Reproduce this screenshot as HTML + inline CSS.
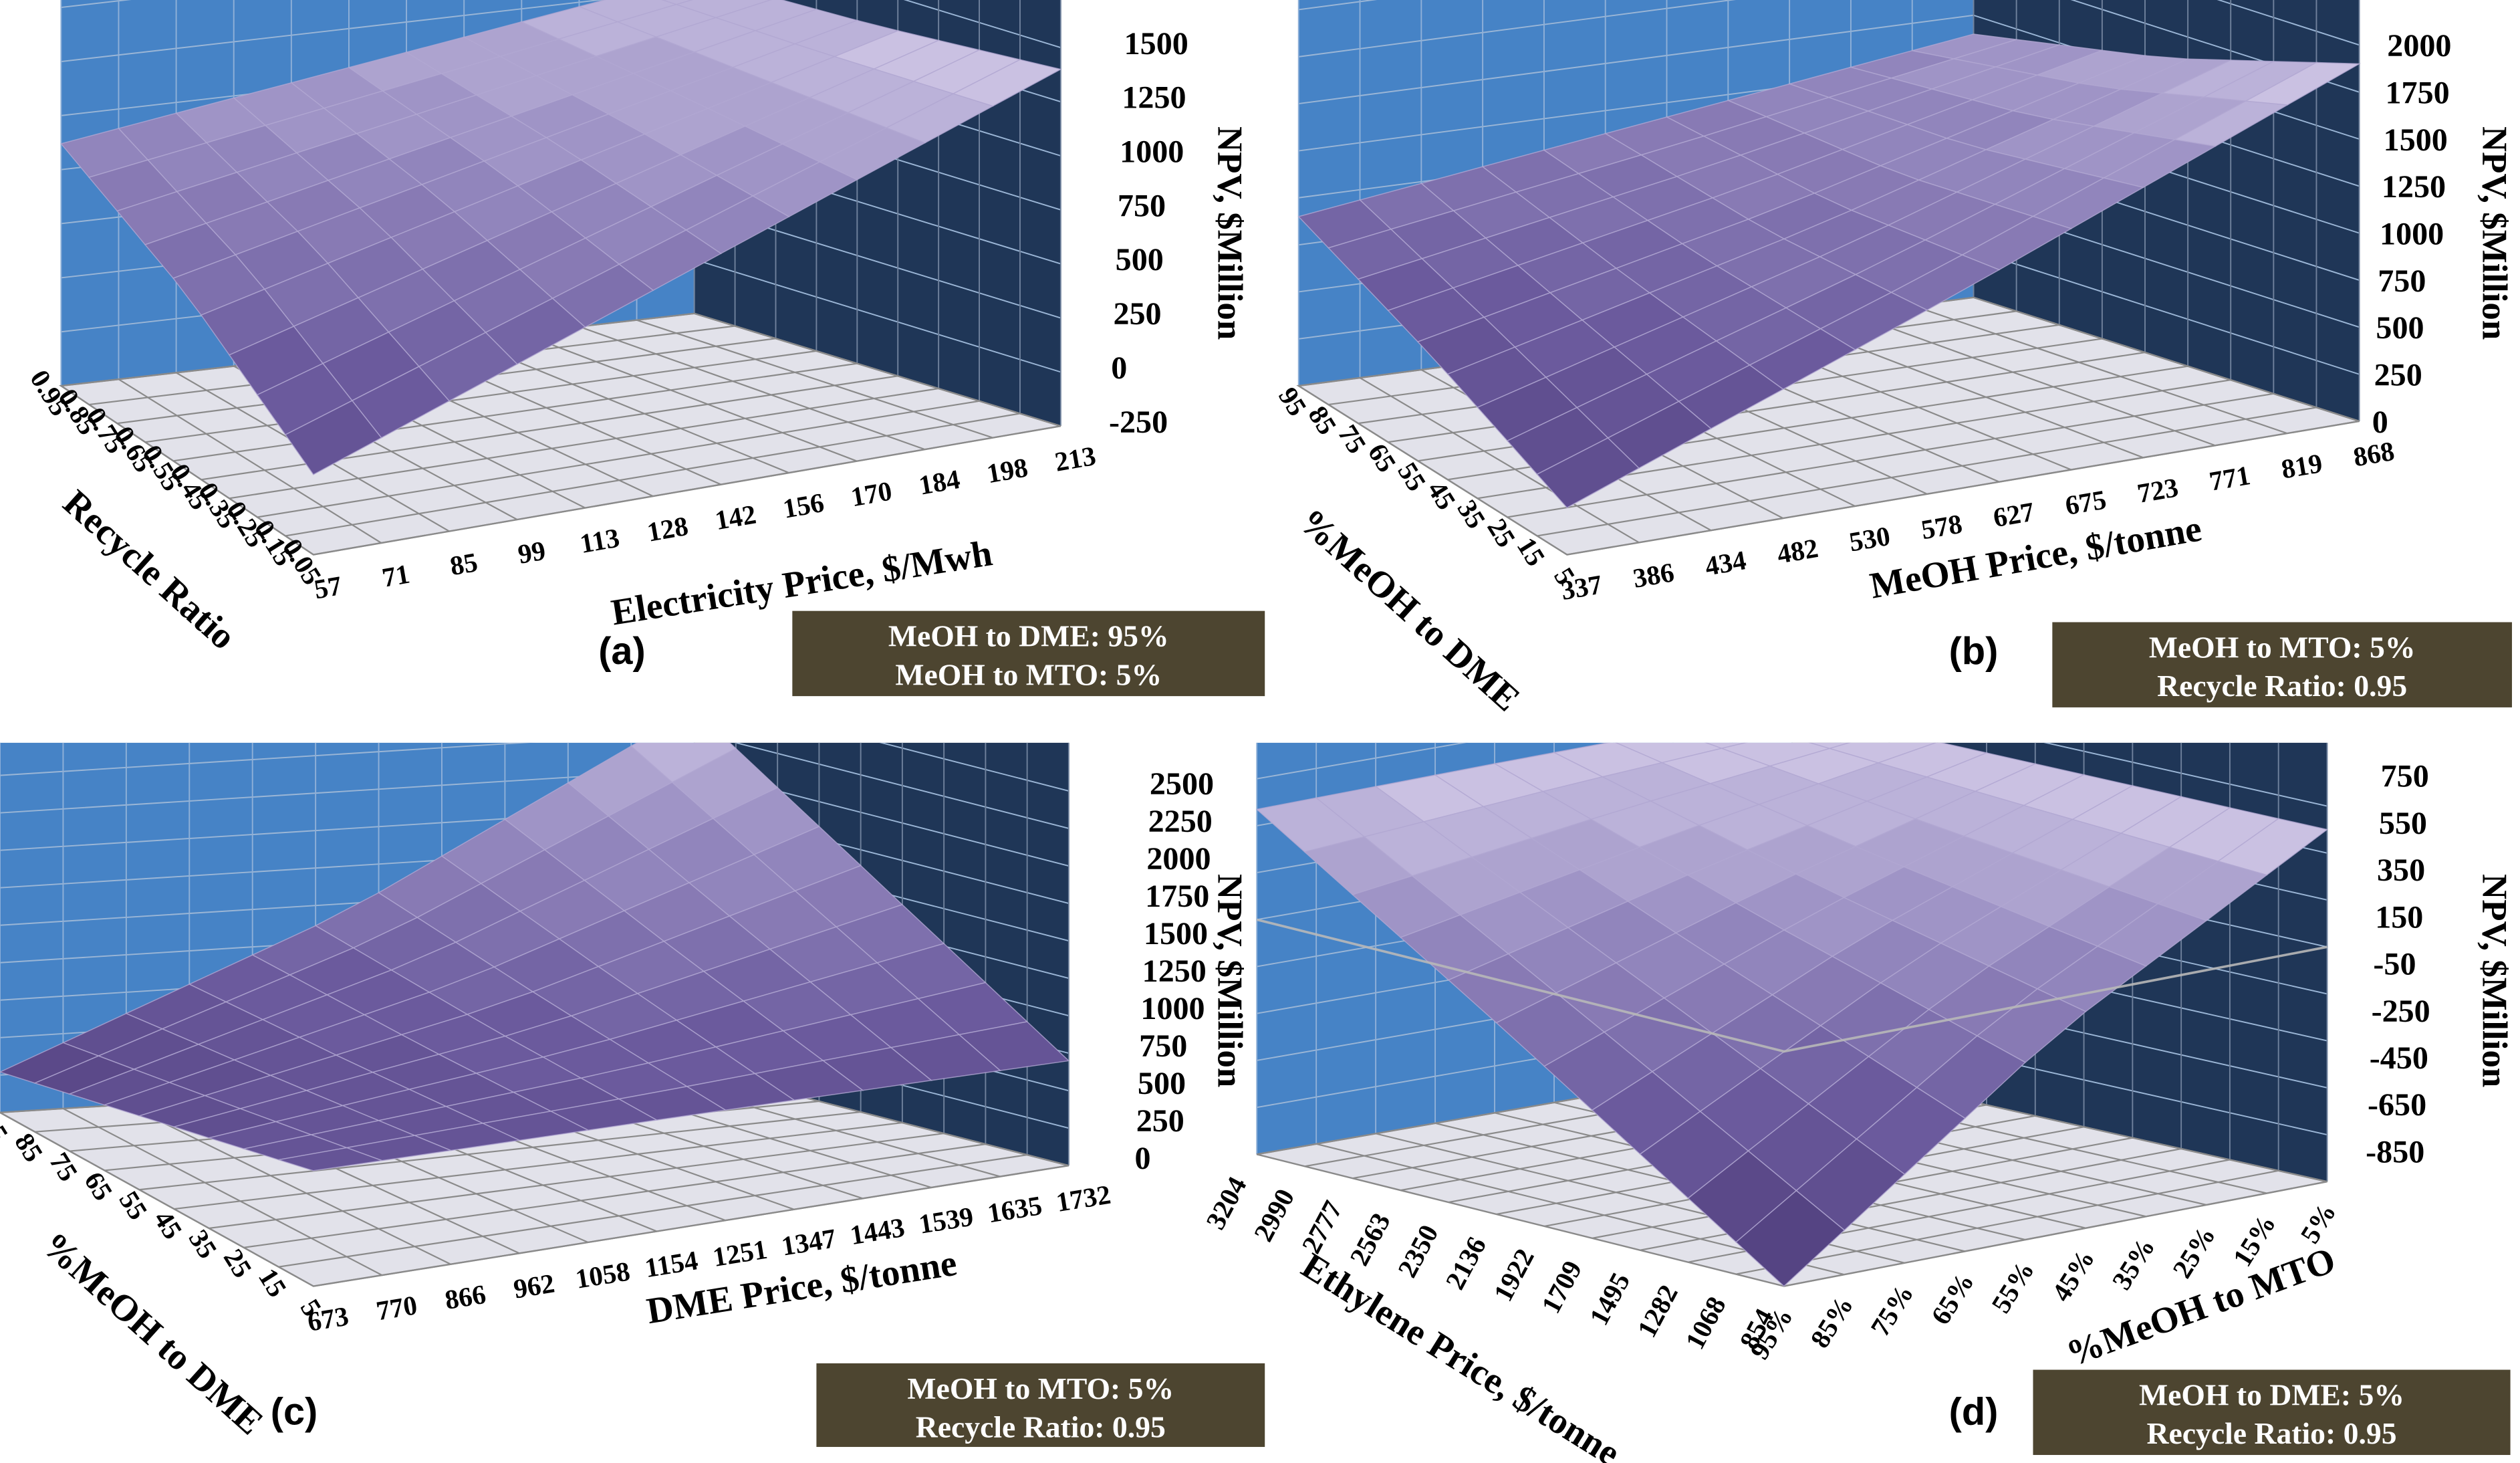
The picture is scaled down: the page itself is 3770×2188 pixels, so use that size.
<!DOCTYPE html>
<html><head><meta charset="utf-8"><title>NPV sensitivity surfaces</title>
<style>
html,body{margin:0;padding:0;background:#fff;}
svg{display:block;}
text{font-family:"Liberation Serif",serif;font-weight:bold;fill:#000;}
.lt{font-family:"Liberation Sans",sans-serif;}
</style></head>
<body>
<svg id="fig" width="3770" height="2188" viewBox="0 0 1568 910" preserveAspectRatio="none" xmlns="http://www.w3.org/2000/svg"></svg>
<script>
// ---------- data ----------
const aXTicks = ["57","71","85","99","113","128","142","156","170","184","198","213"];
const aYTicks = ["0.05","0.15","0.25","0.35","0.45","0.55","0.65","0.75","0.85","0.95"];
const aZTicks = [-250,0,250,500,750,1000,1250,1500];
const aValues = [[120,760,1400],[560,950,1340],[870,1090,1310]];

const bXTicks = ["337","386","434","482","530","578","627","675","723","771","819","868"];
const bYTicks = ["5","15","25","35","45","55","65","75","85","95"];
const bZTicks = [0,250,500,750,1000,1250,1500,1750,2000];
const bValues = [[250,1050,1900],[600,1050,1600],[900,1150,1400]];

const cXTicks = ["673","770","866","962","1058","1154","1251","1347","1443","1539","1635","1732"];
const cYTicks = ["5","15","25","35","45","55","65","75","85","95"];
const cZTicks = [0,250,500,750,1000,1250,1500,1750,2000,2250,2500];
const cValues = [[770,740,700],[520,950,1550],[270,1200,2400]];

const dXTicks = ["95%","85%","75%","65%","55%","45%","35%","25%","15%","5%"];
const dYTicks = ["854","1068","1282","1495","1709","1922","2136","2350","2563","2777","2990","3204"];
const dZTicks = [-850,-650,-450,-250,-50,150,350,550,750];
const dValues = [[-850,0,650],[-100,300,650],[620,640,650]];
const dRefLevel = 150;

// ---------- layout ----------
const NS = "http://www.w3.org/2000/svg";
const svg = document.getElementById('fig');
function mk(tag, attrs, parent){
  const e = document.createElementNS(NS, tag);
  for (const k in attrs) e.setAttribute(k, attrs[k]);
  (parent||svg).appendChild(e);
  return e;
}
const panels = [
 {id:'a', xT:aXTicks, yT:aYTicks, zT:aZTicks, V:aValues,
  FL:[195,345], FR:[660,265], BL:[38,240], BR:[432,195], zk:0.1345, clip:[0,0,790,460],
  zLabX:690, zLabY0:269, npvX:758, npvY:145,
  xLabOff:[10,26], yLabOff:[-4,20], yRot:58,
  xTitle:"Electricity Price, $/Mwh", xTitlePos:[500,370,-9], yTitle:"Recycle Ratio", yTitlePos:[88,360,42],
  letter:[387,413], box:[493,380,294,53], boxText:["MeOH to DME: 95%","MeOH to MTO: 5%"]},
 {id:'b', xT:bXTicks, yT:bYTicks, zT:bZTicks, V:bValues,
  FL:[975,345], FR:[1468,262], BL:[808,240], BR:[1228,185], zk:0.117, clip:[790,0,778,460],
  zLabX:1476, zLabY0:269, npvX:1545, npvY:145,
  xLabOff:[10,26], yLabOff:[-4,20], yRot:58,
  xTitle:"MeOH Price, $/tonne", xTitlePos:[1268,354,-10], yTitle:"%MeOH to DME", yTitlePos:[872,385,42],
  letter:[1228,413], box:[1277,387,286,53], boxText:["MeOH to MTO: 5%","Recycle Ratio: 0.95"]},
 {id:'c', xT:cXTicks, yT:cYTicks, zT:cZTicks, V:cValues,
  FL:[195,800], FR:[665,725], BL:[0,692], BR:[432,665], zk:0.0932, clip:[0,462,790,448],
  zLabX:706, zLabY0:727, npvX:758, npvY:610,
  xLabOff:[10,26], yLabOff:[-4,20], yRot:58,
  xTitle:"DME Price, $/tonne", xTitlePos:[500,808,-9], yTitle:"%MeOH to DME", yTitlePos:[90,835,42],
  letter:[183,886], box:[508,848,279,52], boxText:["MeOH to MTO: 5%","Recycle Ratio: 0.95"]},
 {id:'d', xT:dXTicks, yT:dYTicks, zT:dZTicks, V:dValues,
  FL:[1110,800], FR:[1448,735], BL:[782,718], BR:[1115,660], zk:0.146, clip:[775,462,793,448],
  zLabX:1472, zLabY0:723, npvX:1545, npvY:610, refLevel:dRefLevel,
  xLabOff:[6,18], yLabOff:[-6,18], yRot:-62, xRot:-58, xAnchor:'end',
  xTitle:"%MeOH to MTO", xTitlePos:[1372,820,-20], yTitle:"Ethylene Price, $/tonne", yTitlePos:[905,852,32],
  letter:[1228,886], box:[1265,852,297,53], boxText:["MeOH to DME: 5%","Recycle Ratio: 0.95"]}
];

function lerp(a,b,t){return a+(b-a)*t;}
function floorPt(P,u,v){
  const x = (1-u)*(1-v)*P.FL[0] + u*(1-v)*P.FR[0] + (1-u)*v*P.BL[0] + u*v*P.BR[0];
  const y = (1-u)*(1-v)*P.FL[1] + u*(1-v)*P.FR[1] + (1-u)*v*P.BL[1] + u*v*P.BR[1];
  return [x,y];
}
function zmin(P){return P.zT[0];}
function zmax(P){return P.zT[P.zT.length-1];}
function proj(P,u,v,z){const f=floorPt(P,u,v);return [f[0], f[1]-(z-zmin(P))*P.zk];}
function valueAt(P,u,v){
  const gx=u*2, gy=v*2;
  const i=Math.min(1,Math.floor(gx)), j=Math.min(1,Math.floor(gy));
  const tx=gx-i, ty=gy-j, V=P.V;
  return lerp(lerp(V[j][i],V[j][i+1],tx), lerp(V[j+1][i],V[j+1][i+1],tx), ty);
}
const stops=[[0,[80,62,124]],[0.35,[106,89,156]],[0.65,[146,134,189]],[1,[216,208,236]]];
function color(t){
  t=Math.max(0,Math.min(1,Math.round(t*14)/14));
  for(let k=1;k<stops.length;k++){ if(t<=stops[k][0]){
    const s=(t-stops[k-1][0])/(stops[k][0]-stops[k-1][0]);
    const a=stops[k-1][1], b=stops[k][1];
    return 'rgb('+a.map((c,q)=>Math.round(lerp(c,b[q],s))).join(',')+')';}}
  return 'rgb(216,208,236)';
}
function pts(arr){return arr.map(p=>p[0].toFixed(1)+','+p[1].toFixed(1)).join(' ');}

panels.forEach(P=>{
  const g = mk('g',{});
  
  
  const cp = mk('clipPath',{id:'clip-'+P.id},g);
  mk('rect',{x:P.clip[0],y:P.clip[1],width:P.clip[2],height:P.clip[3]},cp);
  const inner = mk('g',{'clip-path':'url(#clip-'+P.id+')'},g);
  const ztop = zmax(P) + 2000;
  const nx = P.xT.length, ny = P.yT.length;
  const bw = mk('polygon',{points:pts([proj(P,0,1,zmin(P)),proj(P,1,1,zmin(P)),proj(P,1,1,ztop),proj(P,0,1,ztop)]),fill:'#4683c6'},inner);
  
  
  const rw = mk('polygon',{points:pts([proj(P,1,0,zmin(P)),proj(P,1,1,zmin(P)),proj(P,1,1,ztop),proj(P,1,0,ztop)]),fill:'#1f3657'},inner);
  
  
  P.zT.forEach(z=>{
    mk('polyline',{points:pts([proj(P,0,1,z),proj(P,1,1,z),proj(P,1,0,z)]),fill:'none',stroke:'#9bb6d6','stroke-width':0.8},inner);
  });
  for(let i=0;i<nx;i++){const u=i/(nx-1);
    mk('line',{x1:proj(P,u,1,zmin(P))[0],y1:proj(P,u,1,zmin(P))[1],x2:proj(P,u,1,ztop)[0],y2:proj(P,u,1,ztop)[1],stroke:'#8fb0d8','stroke-width':0.8},inner);}
  for(let j=0;j<ny;j++){const v=j/(ny-1);
    mk('line',{x1:proj(P,1,v,zmin(P))[0],y1:proj(P,1,v,zmin(P))[1],x2:proj(P,1,v,ztop)[0],y2:proj(P,1,v,ztop)[1],stroke:'#6f819c','stroke-width':0.8},inner);}
  const fl = mk('polygon',{points:pts([P.FL,P.FR,P.BR,P.BL]),fill:'#e2e2ea',stroke:'#888','stroke-width':1},inner);
  
  
  for(let i=0;i<nx;i++){const u=i/(nx-1);
    mk('line',{x1:floorPt(P,u,0)[0],y1:floorPt(P,u,0)[1],x2:floorPt(P,u,1)[0],y2:floorPt(P,u,1)[1],stroke:'#8a8a8a','stroke-width':0.9},inner);}
  for(let j=0;j<ny;j++){const v=j/(ny-1);
    mk('line',{x1:floorPt(P,0,v)[0],y1:floorPt(P,0,v)[1],x2:floorPt(P,1,v)[0],y2:floorPt(P,1,v)[1],stroke:'#8a8a8a','stroke-width':0.9},inner);}
  const cells=[];
  const cx=nx-1, cy=ny-1;
  for(let i=0;i<cx;i++)for(let j=0;j<cy;j++){
    const us=[i/cx,(i+1)/cx], vs=[j/cy,(j+1)/cy];
    const c=[[us[0],vs[0]],[us[1],vs[0]],[us[1],vs[1]],[us[0],vs[1]]];
    const zs=c.map(q=>valueAt(P,q[0],q[1]));
    const zav=zs.reduce((a,b)=>a+b,0)/4;
    const depth=c.reduce((a,q)=>a+floorPt(P,q[0],q[1])[1],0);
    cells.push({p:c.map((q,k)=>proj(P,q[0],q[1],zs[k])),zav,depth});
  }
  cells.sort((a,b)=>a.depth-b.depth);
  const sg = mk('g',{},inner);
  
  
  cells.forEach(c=>{
    const t=(c.zav-zmin(P))/(zmax(P)-zmin(P));
    const poly = mk('polygon',{points:pts(c.p),fill:color(t),stroke:'#b2a7d2','stroke-width':0.6,'stroke-opacity':0.8},sg);
    
    
  });
  if(P.refLevel!==undefined){
    const rl = mk('polyline',{points:pts([proj(P,0,1,P.refLevel),proj(P,0,0,P.refLevel),proj(P,1,0,P.refLevel)]),fill:'none',stroke:'#b8b8b8','stroke-width':1.5,'stroke-opacity':0.9},inner);
    
    
  }
  P.xT.forEach((lab,i)=>{
    const f=floorPt(P,i/(nx-1),0);
    const ang = P.xRot!==undefined ? P.xRot : Math.atan2(P.FR[1]-P.FL[1],P.FR[0]-P.FL[0])*180/Math.PI;
    const x=f[0]+P.xLabOff[0], y=f[1]+P.xLabOff[1];
    const t=mk('text',{x:x,y:y,'font-size':17,'text-anchor':P.xAnchor||'middle',transform:'rotate('+ang.toFixed(1)+' '+x.toFixed(1)+' '+y.toFixed(1)+')'},g);
    t.textContent=lab;
    
    
  });
  P.yT.forEach((lab,j)=>{
    const f=floorPt(P,0,j/(ny-1));
    const x=f[0]+P.yLabOff[0], y=f[1]+P.yLabOff[1];
    const t=mk('text',{x:x,y:y,'font-size':17,'text-anchor':'end',transform:'rotate('+P.yRot+' '+x.toFixed(1)+' '+y.toFixed(1)+')'},g);
    t.textContent=lab;
    
    
  });
  P.zT.forEach(z=>{
    const y=P.zLabY0-(z-zmin(P))*P.zk;
    const t=mk('text',{x:P.zLabX+(P.zLabY0-y)*0.04,y:y,'font-size':20},g);
    t.textContent=String(z);
    
    
  });
  const nt=mk('text',{x:P.npvX,y:P.npvY,'font-size':22,'text-anchor':'middle',transform:'rotate(90 '+P.npvX+' '+P.npvY+')'},g);
  nt.textContent='NPV, $Million';
  
  
  const xt=mk('text',{x:P.xTitlePos[0],y:P.xTitlePos[1],'font-size':23,'text-anchor':'middle',transform:'rotate('+P.xTitlePos[2]+' '+P.xTitlePos[0]+' '+P.xTitlePos[1]+')'},g);
  xt.textContent=P.xTitle;
  
  
  const yt=mk('text',{x:P.yTitlePos[0],y:P.yTitlePos[1],'font-size':23,'text-anchor':'middle',transform:'rotate('+P.yTitlePos[2]+' '+P.yTitlePos[0]+' '+P.yTitlePos[1]+')'},g);
  yt.textContent=P.yTitle;
  
  
  const lt=mk('text',{x:P.letter[0],y:P.letter[1],'font-size':24,'text-anchor':'middle','class':'lt'},g);
  lt.textContent='('+P.id+')';
  
  
  const bx=mk('rect',{x:P.box[0],y:P.box[1],width:P.box[2],height:P.box[3],fill:'#4d4530'},g);
  
  
  P.boxText.forEach((s,k)=>{
    const t=mk('text',{x:P.box[0]+P.box[2]/2,y:P.box[1]+22+k*24,'font-size':19,'text-anchor':'middle',style:'fill:#fff'},g);
    t.textContent=s;
    
    
  });
});
</script>
</body></html>
